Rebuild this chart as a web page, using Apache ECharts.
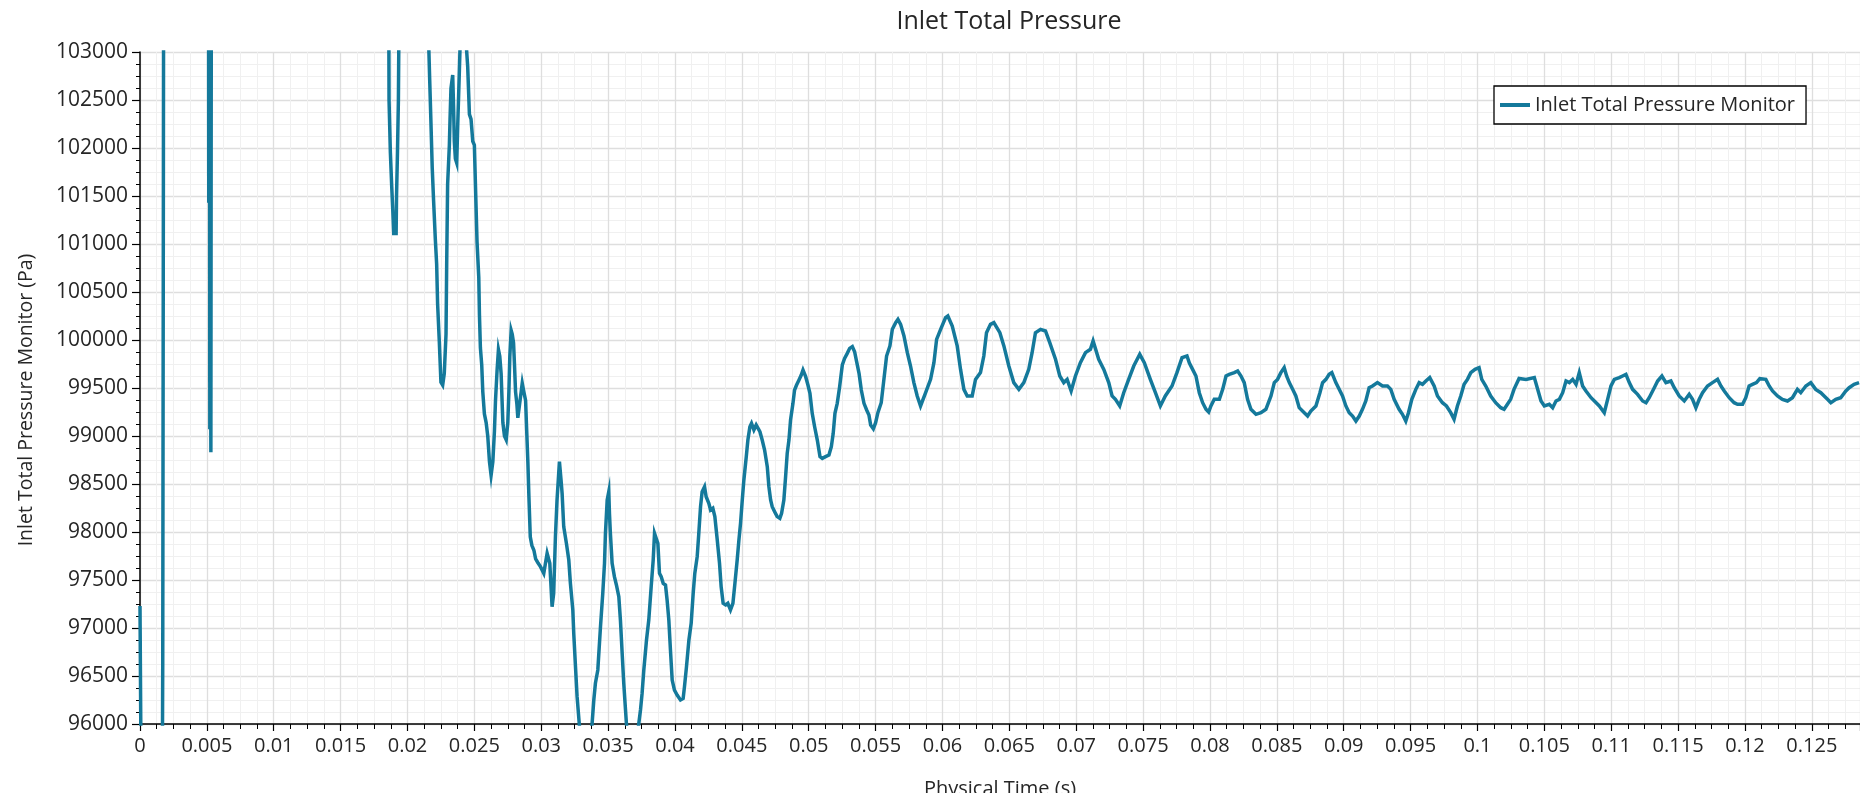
<!DOCTYPE html>
<html>
<head>
<meta charset="utf-8">
<script src="https://cdn.jsdelivr.net/npm/echarts@6/dist/echarts.min.js"></script>
<style>
html,body{margin:0;padding:0;background:#fff;}
#chart{width:1860px;height:793px;}
</style>
</head>
<body>
<div id="chart"></div>
<script>
// Physical time (s)
const timeS = [
0, 0.0002, 0.0016, 0.0017, 0.00175, 0.0018, 0.0051, 0.00514, 0.00518, 0.00522, 0.00526, 0.0053, 0.00536, 0.0185,
0.01862, 0.01872, 0.01882, 0.0189, 0.01897, 0.01915, 0.01918, 0.01925, 0.01932, 0.0194, 0.0214,
0.0215, 0.02166, 0.02175, 0.02185, 0.02195, 0.02208, 0.02218, 0.02225, 0.02237, 0.0225, 0.02263, 0.02275, 0.02288, 0.02293,
0.023, 0.02313, 0.02318, 0.02325, 0.02338, 0.02345, 0.0235, 0.02358, 0.02368, 0.02375, 0.02388, 0.02396, 0.0242, 0.02438,
0.0245, 0.02463, 0.02475, 0.02488, 0.025, 0.02508, 0.0252, 0.02533, 0.02538, 0.02545, 0.02555, 0.02563, 0.02575, 0.02588,
0.026, 0.02613, 0.02625, 0.02638, 0.0265, 0.02658, 0.0267, 0.0268, 0.0269, 0.027, 0.02713, 0.02725, 0.02738, 0.0275,
0.02758, 0.02765, 0.02775, 0.02783, 0.02793, 0.028, 0.02808, 0.02818, 0.02825, 0.02838, 0.0285, 0.02858, 0.0287, 0.02883,
0.0289, 0.029, 0.02908, 0.02918, 0.0293, 0.02945, 0.02958, 0.02975,
0.02994, 0.03019, 0.03044, 0.03064, 0.03081, 0.03093, 0.03106, 0.03118, 0.03136, 0.03148, 0.03156, 0.03168, 0.03188,
0.03206, 0.03218, 0.03236, 0.03243, 0.03256, 0.03268, 0.03288, 0.0333, 0.0338, 0.03393, 0.03405, 0.03423, 0.03443,
0.0346, 0.03473, 0.0348, 0.03493, 0.03505, 0.0351, 0.03517, 0.0353, 0.03547, 0.03562, 0.0358, 0.03592, 0.03605,
0.03617, 0.0363, 0.03637, 0.0368, 0.03729, 0.03742, 0.03754, 0.03767, 0.03787, 0.03804, 0.03822, 0.03837, 0.03847,
0.03859, 0.03872, 0.03884, 0.03897, 0.03912, 0.03929, 0.03941, 0.03954, 0.03966, 0.03979, 0.03996, 0.04016, 0.04041,
0.04061, 0.04071, 0.04086, 0.04104, 0.04121, 0.04136, 0.04148, 0.04166, 0.04178, 0.04191, 0.04203, 0.04221, 0.04233,
0.04253, 0.04266, 0.04283, 0.04298, 0.04316, 0.04333, 0.04345, 0.0436, 0.04378, 0.04395, 0.04415, 0.04433, 0.04448,
0.04465, 0.04478, 0.0449, 0.04503, 0.04515, 0.04533, 0.04545, 0.0456, 0.04572, 0.0459, 0.04607, 0.0462, 0.04635,
0.04652, 0.0467, 0.0469, 0.04702, 0.04715, 0.04727, 0.04745, 0.04764, 0.04784, 0.04797, 0.04814, 0.04827, 0.04839,
0.04852, 0.04864, 0.04882, 0.04894, 0.04909, 0.04927, 0.04944, 0.04957, 0.04977, 0.04994, 0.05009, 0.05026, 0.05044,
0.05064, 0.05084, 0.05101, 0.05126, 0.05151, 0.05169, 0.05183, 0.05196, 0.05213, 0.05231, 0.05251, 0.05268, 0.05288,
0.05306, 0.05326, 0.05343, 0.05358, 0.05376, 0.05393, 0.05413, 0.05433, 0.0545, 0.05463, 0.05483,
0.055, 0.05517, 0.05542, 0.05562, 0.05582, 0.05607, 0.05625, 0.0565, 0.05667, 0.05687, 0.05712, 0.05737, 0.05761,
0.05786, 0.05811, 0.05836, 0.05849, 0.05874, 0.05911, 0.05936, 0.05956, 0.05986, 0.06023, 0.0604, 0.06073, 0.0611,
0.06135, 0.0616, 0.06185, 0.06222, 0.06247, 0.06284, 0.06309, 0.06329, 0.06359, 0.06384, 0.06429, 0.06459, 0.06496,
0.06533, 0.06571, 0.06608, 0.06645, 0.0667, 0.06695, 0.06733, 0.0677, 0.06802, 0.06845, 0.06877, 0.06907, 0.06932,
0.06962, 0.06994, 0.07031, 0.07069, 0.07106, 0.07126, 0.07168, 0.07206, 0.07243, 0.07268, 0.07293, 0.07325, 0.07355,
0.07392, 0.0743, 0.07475, 0.07509, 0.07554, 0.07592, 0.07629, 0.07666, 0.07716, 0.07753, 0.07791, 0.07828, 0.07846,
0.0787, 0.07895, 0.0792, 0.07945, 0.0797, 0.0799, 0.08007, 0.08032, 0.0807, 0.08095, 0.0812, 0.08144, 0.08182,
0.08207, 0.08232, 0.08256, 0.08281, 0.08306, 0.08344, 0.08381, 0.08418, 0.08456, 0.08481, 0.08505, 0.0853, 0.08555,
0.08573, 0.08593, 0.08618, 0.08642, 0.08667, 0.08705, 0.0873, 0.08754, 0.08792, 0.08822, 0.08842, 0.08867, 0.08891,
0.08911, 0.08941, 0.08966, 0.08991, 0.09016, 0.09041, 0.09066, 0.09091, 0.09116, 0.0914, 0.09165, 0.0919, 0.09215,
0.09252, 0.0929, 0.09327, 0.09352, 0.09377, 0.09414, 0.09439, 0.09464, 0.09484, 0.09509, 0.09539, 0.09564, 0.09589,
0.09614, 0.09643, 0.09676, 0.09701, 0.09738, 0.09768, 0.098, 0.09825, 0.0985, 0.09875, 0.099, 0.09925, 0.0995,
0.09982, 0.10012, 0.10032, 0.10062, 0.10099, 0.10136, 0.10174, 0.10199, 0.10224, 0.10248, 0.10273, 0.10311,
0.10363, 0.10425, 0.1045, 0.10475, 0.105, 0.10537, 0.10562, 0.10587, 0.10612, 0.10637, 0.10662, 0.10687, 0.10712,
0.10737, 0.10761, 0.10786, 0.10811, 0.10849, 0.10874, 0.10911, 0.10948, 0.10973, 0.10998, 0.11023, 0.1106, 0.11085,
0.1111, 0.11135, 0.1116, 0.11197, 0.11235, 0.1126, 0.11284, 0.11322, 0.11347, 0.11379, 0.11409, 0.11446, 0.11471,
0.11508, 0.11546, 0.11583, 0.11608, 0.11633, 0.11658, 0.11683, 0.1172, 0.11757, 0.11795, 0.1182, 0.11845, 0.11882,
0.11919, 0.11944, 0.11982, 0.12006, 0.12031, 0.12056, 0.12086, 0.12111, 0.12156, 0.12181, 0.12206, 0.12243, 0.1228,
0.12318, 0.12355, 0.12392, 0.12417, 0.12455, 0.12492, 0.12529, 0.12567, 0.12592, 0.12617, 0.12642, 0.12679, 0.12716,
0.12754, 0.12779, 0.12816, 0.12853
];
// Inlet Total Pressure Monitor (Pa)
const pressurePa = [
97230, 93000, 93000, 96620, 101800, 108000, 108000, 101430, 108000, 99070, 101000, 98830, 108000, 108000,
102500, 101950, 101600, 101350, 101110, 101110, 101500, 101950, 102500, 104000, 104000,
104000, 102710, 102280, 101790, 101455, 101050, 100790, 100380, 100010, 99560, 99530, 99650, 100060, 100790,
101620, 102030, 102300, 102620, 102760, 102400, 102070, 101890, 101845, 102210, 102810, 103200, 104000, 103100,
102850, 102350, 102300, 102070, 102030, 101620, 101020, 100650, 100260, 99920, 99740, 99460, 99230, 99140,
99000, 98730, 98590, 98730, 99050, 99370, 99690, 99900, 99830, 99650, 99140, 99000, 98960, 99140,
99460, 99830, 100100, 100060, 99970, 99740, 99460, 99330, 99190, 99330, 99460, 99550, 99460, 99370,
99100, 98730, 98360, 97950, 97860, 97810, 97720, 97680,
97639, 97569, 97778, 97674, 97222, 97361, 97951, 98333, 98733, 98542, 98403, 98056, 97882,
97708, 97465, 97188, 96944, 96597, 96285, 95938, 95500, 96000, 96250, 96424, 96563, 97014,
97361, 97674, 97986, 98333, 98420, 98194, 97986, 97674, 97535, 97448, 97326, 97083, 96736,
96424, 96146, 96000, 95400, 96000, 96146, 96319, 96563, 96875, 97083, 97431, 97708, 97986,
98003, 97882, 97569, 97535, 97465, 97448, 97292, 97083, 96771, 96458, 96354, 96302, 96250,
96267, 96389, 96597, 96875, 97049, 97361, 97569, 97743, 97986, 98264, 98420, 98472, 98368,
98299, 98229, 98247, 98160, 97917, 97674, 97431, 97257, 97240, 97257, 97188, 97257, 97465,
97708, 97917, 98090, 98333, 98542, 98785, 98958, 99097, 99132, 99063, 99115, 99132, 99045,
98958, 98854, 98681, 98472, 98333, 98264, 98212, 98160, 98142, 98194, 98333, 98576, 98819,
98958, 99167, 99340, 99479, 99531, 99583, 99635, 99688, 99618, 99531, 99444, 99236, 99097,
98958, 98785, 98767, 98785, 98802, 98889, 99028, 99236, 99340, 99514, 99740, 99809, 99861,
99913, 99931, 99878, 99774, 99653, 99479, 99340, 99271, 99219, 99115, 99075,
99139, 99243, 99347, 99590, 99833, 99938, 100111, 100181, 100215, 100163, 100042, 99868, 99729,
99556, 99417, 99313, 99295, 99451, 99590, 99764, 100007, 100111, 100233, 100250, 100146, 99938,
99694, 99486, 99417, 99417, 99590, 99660, 99833, 100076, 100163, 100181, 100076, 99938, 99729,
99556, 99486, 99556, 99694, 99868, 100076, 100111, 100094, 99972, 99799, 99625, 99556, 99590,
99469, 99625, 99764, 99868, 99903, 99990, 99799, 99694, 99556, 99417, 99382, 99313, 99451,
99590, 99729, 99851, 99764, 99590, 99451, 99313, 99417, 99521, 99660, 99816, 99833, 99760,
99694, 99625, 99451, 99347, 99278, 99250, 99313, 99382, 99382, 99486, 99625, 99642, 99660,
99677, 99625, 99556, 99382, 99278, 99226, 99243, 99278, 99417, 99556, 99590, 99660, 99712,
99625, 99556, 99486, 99417, 99295, 99243, 99208, 99260, 99313, 99451, 99556, 99590, 99642,
99660, 99556, 99486, 99417, 99313, 99243, 99208, 99156, 99208, 99278, 99365, 99503, 99521,
99556, 99521, 99521, 99486, 99382, 99278, 99226, 99156, 99243, 99382, 99486, 99556, 99538,
99573, 99608, 99521, 99417, 99347, 99313, 99243, 99174, 99313, 99417, 99538, 99590, 99660,
99694, 99712, 99590, 99521, 99417, 99347, 99295, 99278, 99330, 99382, 99486, 99600,
99590, 99608, 99486, 99365, 99313, 99330, 99295, 99365, 99382, 99451, 99573, 99556, 99590,
99538, 99660, 99521, 99469, 99399, 99365, 99313, 99243, 99382, 99521, 99590, 99608, 99625,
99642, 99556, 99486, 99434, 99365, 99347, 99399, 99503, 99573, 99625, 99556, 99573, 99503,
99417, 99365, 99434, 99382, 99295, 99382, 99451, 99521, 99556, 99590, 99521, 99469, 99399,
99347, 99330, 99330, 99399, 99521, 99538, 99556, 99597, 99590, 99521, 99469, 99417, 99382,
99365, 99399, 99486, 99451, 99521, 99556, 99486, 99451, 99417, 99382, 99347, 99382, 99399,
99469, 99503, 99538, 99556
];

const seriesName = 'Inlet Total Pressure Monitor';
const yAxisTitle = 'Inlet Total Pressure Monitor (Pa)';
const FONT = '"Open Sans", "Noto Sans", sans-serif';
const TEXT = '#262626';
const LINE = '#14799b';

const data = timeS.map((t, i) => [t, pressurePa[i]]);

const chart = echarts.init(document.getElementById('chart'), null, {renderer: 'canvas'});
chart.setOption({
  animation: false,
  backgroundColor: '#ffffff',
  textStyle: {fontFamily: FONT},
  title: {
    text: 'Inlet Total Pressure',
    left: 1004,
    textAlign: 'center',
    top: 4,
    textStyle: {fontFamily: FONT, fontSize: 25, fontWeight: 'normal', color: TEXT}
  },
  graphic: [{
    type: 'text',
    x: 26,
    y: 400,
    rotation: Math.PI / 2,
    style: {
      text: yAxisTitle,
      fill: TEXT,
      font: '19.5px "Open Sans", "Noto Sans", sans-serif',
      align: 'center',
      verticalAlign: 'middle'
    }
  }],
  legend: {
    data: [seriesName],
    left: 1494,
    top: 86,
    orient: 'horizontal',
    backgroundColor: '#ffffff',
    borderColor: '#000000',
    borderWidth: 1.3,
    borderRadius: 0,
    padding: [9, 11, 9, 6],
    itemWidth: 30,
    itemHeight: 4,
    icon: 'rect',
    textStyle: {fontFamily: FONT, fontSize: 20, color: TEXT}
  },
  grid: {left: 140, right: 0, top: 52, bottom: 69, containLabel: false, outerBoundsMode: 'none'},
  xAxis: {
    type: 'value',
    min: 0,
    max: 0.1286,
    interval: 0.005,
    name: 'Physical Time (s)',
    nameLocation: 'middle',
    nameGap: 55,
    nameTextStyle: {fontFamily: FONT, fontSize: 20, color: TEXT},
    axisLine: {show: true, onZero: false, lineStyle: {color: '#000', width: 1.5}},
    axisTick: {show: true, length: 7, lineStyle: {color: '#000', width: 1.2}},
    minorTick: {show: true, splitNumber: 4, length: 5, lineStyle: {color: '#000', width: 1}},
    splitLine: {show: true, lineStyle: {color: '#dedede', width: 1.3}},
    minorSplitLine: {show: true, lineStyle: {color: '#f0f0f0', width: 1}},
    axisLabel: {
      fontFamily: FONT, fontSize: 20, color: TEXT, margin: 12,
      showMaxLabel: false,
      formatter: v => String(+v.toFixed(4))
    }
  },
  yAxis: {
    type: 'value',
    min: 96000,
    max: 103000,
    interval: 500,
    axisLine: {show: true, onZero: false, lineStyle: {color: '#000', width: 1.5}},
    axisTick: {show: true, length: 8, lineStyle: {color: '#000', width: 1.2}},
    minorTick: {show: true, splitNumber: 4, length: 4, lineStyle: {color: '#000', width: 1}},
    splitLine: {show: true, lineStyle: {color: '#dedede', width: 1.3}},
    minorSplitLine: {show: true, lineStyle: {color: '#f0f0f0', width: 1}},
    axisLabel: {fontFamily: FONT, fontSize: 21, color: TEXT, margin: 12, formatter: v => String(v)}
  },
  series: [{
    name: seriesName,
    type: 'line',
    data: data,
    showSymbol: false,
    symbol: 'none',
    clip: true,
    sampling: null,
    lineStyle: {color: LINE, width: 3.5, join: 'miter'},
    itemStyle: {color: LINE}
  }]
});
</script>
</body>
</html>
